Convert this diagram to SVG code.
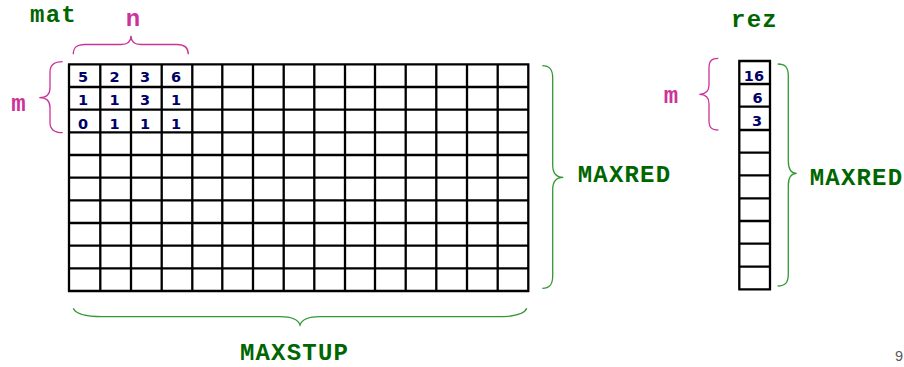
<svg xmlns="http://www.w3.org/2000/svg" width="904" height="367" viewBox="0 0 904 367">
<style>
.lbl{font-family:"Liberation Mono","Courier New",monospace;font-weight:bold;font-size:24px;letter-spacing:1.2px;text-anchor:middle}
.g{fill:#006600}
.p{fill:#cc3399}
.num{font-family:"DejaVu Sans",Verdana,sans-serif;font-weight:bold;font-size:14.5px;fill:#000066}
.grid{fill:none;stroke:#000;stroke-width:2.3}
.bg{fill:none;stroke:#339933;stroke-width:1.3}
.bp{fill:none;stroke:#cc3399;stroke-width:1.3}
</style>
<rect width="904" height="367" fill="#fff"/>
<g id="mat">
<text class="lbl g" x="53.5" y="21.5">mat</text>
<path class="grid" d="M69,64.3V291M100.3,64.3V291M131,64.3V291M161.7,64.3V291M192.3,64.3V291M222.3,64.3V291M253,64.3V291M283.7,64.3V291M314.3,64.3V291M345,64.3V291M375,64.3V291M405.7,64.3V291M436.3,64.3V291M467,64.3V291M497.7,64.3V291M528.3,64.3V291M67.9,64.3H529.4M67.9,87H529.4M67.9,109.7H529.4M67.9,132.3H529.4M67.9,155H529.4M67.9,177.7H529.4M67.9,200.3H529.4M67.9,223H529.4M67.9,245.7H529.4M67.9,268.3H529.4M67.9,291H529.4"/>
<g class="num">
<text x="78" y="82">5</text><text x="109.5" y="82">2</text><text x="140" y="82">3</text><text x="171" y="82">6</text>
<text x="78" y="104.5">1</text><text x="109.5" y="104.5">1</text><text x="140" y="104.5">3</text><text x="171" y="104.5">1</text>
<text x="78" y="129">0</text><text x="109.5" y="129">1</text><text x="140" y="129">1</text><text x="171" y="129">1</text>
</g>
</g>
<g id="rez">
<text class="lbl g" x="754.5" y="26.5">rez</text>
<path class="grid" d="M739.3,61V289.3M770,61V289.3M738.2,61H771.1M738.2,84H771.1M738.2,106.7H771.1M738.2,130H771.1M738.2,152.7H771.1M738.2,175.3H771.1M738.2,198.3H771.1M738.2,221H771.1M738.2,243.7H771.1M738.2,266.7H771.1M738.2,289.3H771.1"/>
<g class="num" text-anchor="end">
<text x="764" y="80.5">16</text><text x="762.5" y="103">6</text><text x="762" y="125.5">3</text>
</g>
</g>
<g id="labels">
<text class="lbl p" x="133.5" y="25.5">n</text>
<text class="lbl p" x="19" y="111">m</text>
<text class="lbl p" x="671.5" y="103">m</text>
<text class="lbl g" x="624.5" y="182.3">MAXRED</text>
<text class="lbl g" x="856.5" y="185">MAXRED</text>
<text class="lbl g" x="294.5" y="359.8">MAXSTUP</text>
<text x="903" y="361" text-anchor="end" font-family="Liberation Sans, Arial, sans-serif" font-size="14.5" fill="#5a5a5a">9</text>
</g>
<g id="braces">
<path class="bp" d="M73.3,54.3C73.3,47.5 76.5,44.5 85,44.5L121,44.5C127.5,44.5 131,41.5 131,35.7C131,41.5 134.5,44.5 141,44.5L177,44.5C185,44.5 188.3,47.5 188.3,54.3"/>
<path class="bp" d="M62.7,61.7C55,61.7 50,64 50,72L50,88C50,94.5 46.5,97.7 39.3,97.7C46.5,97.7 50,101 50,107.5L50,122.5C50,130.5 55,132.7 62.7,132.7"/>
<path class="bp" d="M718.3,58.3C711.5,58.3 709,61 709,68L709,85C709,91 705.5,94.3 699.3,94.3C705.5,94.3 709,97.5 709,103.5L709,120.5C709,127.5 711.5,130 718.3,130"/>
<path class="bg" d="M542.3,65.7C549.5,65.7 552.7,69 552.7,78L552.7,165C552.7,173 556,177.3 563.3,177.3C556,177.3 552.7,181.5 552.7,189.5L552.7,276C552.7,285 549.5,288.3 542.3,288.3"/>
<path class="bg" d="M777.7,64C785,64 788.3,67 788.3,76L788.3,161C788.3,169 791,173.3 796.7,173.3C791,173.3 788.3,177.5 788.3,185.5L788.3,274C788.3,283 785,286 777.7,286"/>
<path class="bg" d="M73.3,308.3C75.5,314 86,316.7 102,316.7L280,316.7C292,316.7 298,319 300,325C302,319 308,316.7 320,316.7L498,316.7C514,316.7 524.5,314 526.7,308.3"/>
</g>
</svg>
